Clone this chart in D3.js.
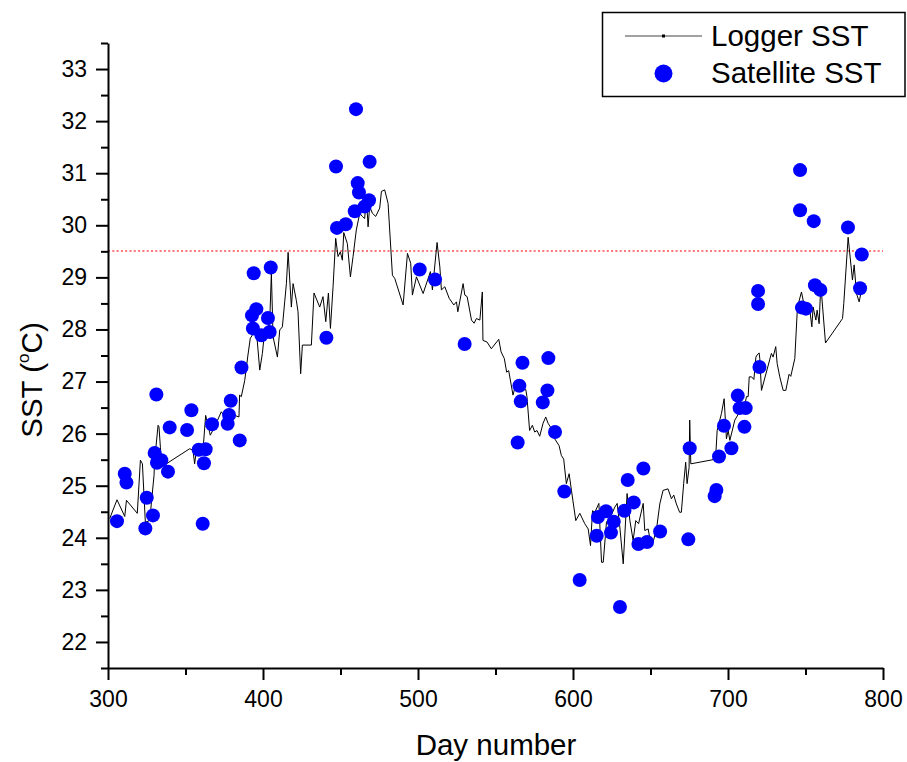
<!DOCTYPE html>
<html>
<head>
<meta charset="utf-8">
<script src="https://cdn.jsdelivr.net/npm/d3@7/dist/d3.min.js"></script>
<style>
  html, body { margin: 0; padding: 0; background: #fff; }
  svg { display: block; }
  text { font-family: "Liberation Sans", Arial, sans-serif; fill: #000; }
</style>
</head>
<body>
<svg id="chart" width="907" height="762"></svg>
<script>
// Logger SST record (day number, °C)
const loggerDay = [
  301.1, 305.8, 310.8, 311.9, 318.9, 320.9, 322.2, 324.1, 326.9, 329.7, 330.1, 332.3, 332.9, 333.8, 334.4, 337.6,
  352.7, 354.8, 355.9, 357.0, 358.7, 361.3, 363.0, 366.0, 368.8, 373.1, 375.3, 378.5, 381.7, 384.5, 384.9, 386.0,
  388.2, 390.3, 391.8, 393.1, 395.7, 397.9, 399.6, 400.7, 404.3, 405.4, 406.5, 409.3, 410.8, 412.5, 414.0, 415.1,
  416.2, 418.3, 419.4, 421.5, 422.6, 424.3, 425.4, 431.2, 432.9, 436.6, 438.7, 440.5, 442.2, 443.5, 445.2, 446.9,
  448.4, 449.9, 451.2, 452.1, 454.4, 456.4, 458.1, 460.2, 462.4, 464.1, 465.6, 466.7, 467.8, 468.8, 470.6, 472.7,
  475.3, 476.4, 478.5, 480.7, 483.5, 485.0, 490.4, 493.2, 495.3, 496.4, 499.0, 503.3, 508.0, 509.3, 512.3, 514.1,
  515.1, 517.3, 520.1, 523.1, 524.8, 525.7, 529.1, 530.2, 531.7, 534.5, 536.2, 537.7, 539.9, 541.5, 541.9, 544.5,
  547.3, 552.1, 553.6, 555.7, 557.2, 558.5, 561.3, 562.4, 564.5, 565.6, 567.7, 569.5, 570.3, 572.0, 573.8, 575.3,
  576.8, 578.5, 580.7, 582.4, 583.9, 585.4, 588.2, 591.0, 592.5, 594.0, 595.7, 597.5, 599.0, 601.8, 604.4, 607.6,
  609.8, 611.3, 612.6, 614.1, 616.7, 618.4, 619.5, 621.6, 624.2, 627.0, 628.5, 630.2, 632.4, 634.9, 636.7, 638.8,
  640.5, 642.3, 645.3, 646.3, 648.5, 649.6, 651.7, 653.9, 656.0, 658.1, 661.3, 663.5, 665.0, 666.7, 668.8, 669.9,
  671.4, 672.7, 673.6, 674.9, 675.3, 676.0, 690.4, 692.1, 693.0, 695.8, 697.5, 699.0, 700.1, 701.2, 704.4, 707.6,
  709.8, 711.9, 713.0, 713.7, 715.2, 716.7, 718.0, 718.8, 720.1, 720.5, 721.6, 728.0, 729.1, 730.8, 731.7, 733.4,
  735.6, 737.3, 739.4, 740.5, 743.1, 744.8, 747.4, 748.9, 750.6, 752.8, 754.1, 754.9, 756.7, 757.5, 758.8, 759.7,
  760.5, 762.9, 773.9, 774.7, 777.5, 780.3, 781.4, 782.9, 784.6, 785.7
];
const loggerSST = [
  24.37, 24.73, 24.41, 24.72, 24.47, 25.49, 25.42, 24.30, 24.33, 25.20, 25.49, 26.16, 26.13, 25.74, 25.49, 25.42,
  25.71, 25.68, 25.42, 25.68, 25.74, 25.68, 26.35, 25.97, 26.13, 26.42, 26.32, 26.45, 26.35, 26.32, 26.74, 26.71,
  27.02, 27.51, 27.83, 27.89, 27.99, 27.22, 27.54, 27.86, 28.12, 29.08, 27.86, 27.47, 27.99, 28.05, 28.53, 28.88,
  29.48, 28.43, 28.88, 28.56, 28.34, 27.15, 27.70, 27.70, 28.70, 28.43, 28.63, 28.15, 28.70, 28.02, 28.82, 29.75,
  29.40, 29.49, 29.33, 29.86, 29.65, 29.01, 29.40, 29.91, 30.23, 30.17, 30.13, 30.55, 29.97, 30.36, 30.23, 30.17,
  30.33, 30.65, 30.68, 30.42, 29.04, 28.98, 28.47, 29.46, 29.27, 28.66, 29.01, 28.69, 29.11, 28.76, 29.67, 29.20,
  28.76, 28.82, 28.60, 28.47, 28.53, 28.34, 28.88, 28.66, 28.63, 28.18, 28.12, 28.21, 28.18, 28.72, 27.79, 27.76,
  27.63, 27.81, 27.57, 27.44, 27.18, 27.21, 26.74, 26.87, 26.84, 27.02, 26.84, 26.85, 26.71, 26.06, 26.16, 26.03,
  26.06, 25.95, 26.20, 26.32, 26.20, 26.13, 25.90, 25.77, 25.58, 25.51, 25.04, 25.23, 24.91, 24.33, 24.47, 24.27,
  24.17, 23.85, 24.52, 24.49, 24.66, 23.53, 23.53, 24.30, 24.40, 24.59, 24.66, 24.21, 23.50, 24.85, 24.33, 23.95,
  24.33, 24.27, 24.66, 24.14, 24.17, 23.98, 23.92, 24.17, 24.65, 24.91, 24.94, 24.75, 24.82, 24.65, 24.49, 24.49,
  25.04, 25.45, 25.04, 25.35, 26.26, 25.42, 25.50, 25.58, 26.06, 26.39, 26.67, 25.90, 26.06, 25.87, 26.26, 26.42,
  26.39, 26.71, 26.71, 27.09, 27.09, 27.04, 27.47, 27.51, 27.55, 27.44, 26.83, 27.54, 27.47, 27.67, 27.35, 27.09,
  26.83, 26.83, 27.14, 27.10, 27.44, 28.43, 28.72, 28.50, 28.37, 28.37, 28.05, 28.43, 28.18, 28.37, 28.11, 28.75,
  28.63, 27.74, 28.21, 28.50, 29.77, 28.95, 29.24, 28.69, 28.53, 28.69
];

// Satellite SST matchups (day number, °C)
const satDay = [
  305.8, 310.8, 311.9, 324.1, 325.0, 329.0, 331.2, 330.1, 334.4, 331.6, 338.7, 339.8, 351.0, 353.8, 358.5, 363.0,
  361.9, 361.1, 367.1, 377.2, 378.1, 379.2, 385.0, 386.1, 393.5, 392.9, 395.7, 394.0, 399.0, 403.2, 404.3, 405.0,
  440.9, 447.1, 447.7, 453.4, 459.2, 460.0, 461.1, 461.9, 465.6, 468.4, 468.8, 501.1, 511.0, 530.1, 564.3, 565.4,
  566.3, 567.4, 580.5, 583.5, 584.1, 588.4, 594.4, 604.3, 615.3, 616.1, 621.3, 624.5, 626.3, 630.3, 633.2, 635.3,
  639.2, 642.2, 645.4, 647.8, 656.2, 674.4, 675.3, 691.4, 692.5, 694.2, 697.4, 702.2, 706.3, 707.5, 710.6, 711.4,
  719.4, 719.4, 720.3, 746.5, 746.5, 747.7, 750.3, 755.3, 756.1, 759.6, 777.4, 785.2, 786.3
];
const satSST = [
  24.32, 25.23, 25.06, 24.18, 24.77, 24.43, 26.75, 25.63, 25.49, 25.44, 25.27, 26.12, 26.07, 26.45, 25.69, 25.70,
  25.43, 24.27, 26.18, 26.19, 26.36, 26.63, 25.87, 27.27, 28.02, 28.27, 28.39, 29.08, 27.89, 28.22, 27.95, 29.19,
  27.84, 31.13, 29.95, 30.02, 30.27, 32.23, 30.81, 30.63, 30.36, 30.48, 31.22, 29.15, 28.96, 27.72, 25.83, 26.92,
  26.62, 27.36, 26.60, 26.83, 27.45, 26.03, 24.89, 23.19, 24.04, 24.40, 24.51, 24.10, 24.31, 22.67, 24.52, 25.11,
  24.68, 23.88, 25.33, 23.92, 24.12, 23.97, 25.72, 24.80, 24.92, 25.56, 26.15, 25.72, 26.73, 26.49, 26.13, 26.49,
  28.49, 28.74, 27.28, 30.29, 31.06, 28.42, 28.40, 30.08, 28.85, 28.76, 29.96, 28.79, 29.44
];

// Reference threshold temperature (dotted line)
const thresholdSST = 29.5;

// Axis ticks
const xMajorTicks = [300, 400, 500, 600, 700, 800];
const xMinorTicks = [350, 450, 550, 650, 750];
const yMajorTicks = [22, 23, 24, 25, 26, 27, 28, 29, 30, 31, 32, 33];
const yMinorTicks = [21.5, 22.5, 23.5, 24.5, 25.5, 26.5, 27.5, 28.5, 29.5, 30.5, 31.5, 32.5, 33.5];

const legendLabels = ["Logger SST", "Satellite SST"];

const svg = d3.select("#chart");

const x = d3.scaleLinear().domain([300, 800]).range([108, 883]);
const y = d3.scaleLinear().domain([21.5, 33.5]).range([668, 43]);

// Threshold line
svg.append("line")
  .attr("x1", x(300)).attr("x2", x(800))
  .attr("y1", Math.round(y(thresholdSST))).attr("y2", Math.round(y(thresholdSST)))
  .attr("stroke", "#ff7878")
  .attr("stroke-width", 2)
  .attr("stroke-dasharray", "2,2.3");

// Logger series
const loggerPts = loggerDay.map((d, i) => [d, loggerSST[i]]);
svg.append("path")
  .datum(loggerPts)
  .attr("fill", "none")
  .attr("stroke", "#000")
  .attr("stroke-width", 1)
  .attr("stroke-linejoin", "miter")
  .attr("d", d3.line().x(d => x(d[0])).y(d => y(d[1])));

// Satellite points
const satPts = satDay.map((d, i) => [d, satSST[i]]);
svg.append("g")
  .selectAll("circle")
  .data(satPts)
  .join("circle")
  .attr("cx", d => x(d[0]))
  .attr("cy", d => y(d[1]))
  .attr("r", 7)
  .attr("fill", "#0000ff");

// Axes
function styleAxis(g) {
  g.selectAll("path.domain").attr("stroke", "#000").attr("stroke-width", 2);
  g.selectAll(".tick line").attr("stroke", "#000").attr("stroke-width", 2);
  g.selectAll(".tick text")
    .attr("font-family", "'Liberation Sans', Arial, sans-serif")
    .attr("font-size", 23)
    .attr("fill", "#000");
}

const xAxisMinor = svg.append("g").attr("transform", `translate(0,${y(21.5)})`)
  .call(d3.axisBottom(x).tickValues(xMinorTicks).tickSize(7).tickSizeOuter(0).tickFormat(""));
styleAxis(xAxisMinor);
const xAxis = svg.append("g").attr("transform", `translate(0,${y(21.5)})`)
  .call(d3.axisBottom(x).tickValues(xMajorTicks).tickSize(12).tickSizeOuter(0).tickPadding(11).tickFormat(d3.format("d")));
styleAxis(xAxis);

const yAxisMinor = svg.append("g").attr("transform", `translate(${x(300)},0)`)
  .call(d3.axisLeft(y).tickValues(yMinorTicks).tickSize(7).tickSizeOuter(0).tickFormat(""));
styleAxis(yAxisMinor);
const yAxis = svg.append("g").attr("transform", `translate(${x(300)},0)`)
  .call(d3.axisLeft(y).tickValues(yMajorTicks).tickSize(12).tickSizeOuter(0).tickPadding(9).tickFormat(d3.format("d")));
styleAxis(yAxis);
xAxisMinor.select("path.domain").remove();
yAxisMinor.select("path.domain").remove();

// Axis titles
svg.append("text")
  .attr("x", 496).attr("y", 755)
  .attr("text-anchor", "middle")
  .attr("font-size", 29.5)
  .text("Day number");

const yTitle = svg.append("text")
  .attr("transform", "translate(42,380) rotate(-90)")
  .attr("text-anchor", "middle")
  .attr("font-size", 29.5);
yTitle.append("tspan").text("SST (");
yTitle.append("tspan").attr("font-size", 17).attr("dy", -13).text("o");
yTitle.append("tspan").attr("dy", 13).text("C)");

// Legend
const legend = svg.append("g");
legend.append("rect")
  .attr("x", 602.5).attr("y", 12.5)
  .attr("width", 302.5).attr("height", 84)
  .attr("fill", "#fff")
  .attr("stroke", "#000")
  .attr("stroke-width", 1.5);
legend.append("line")
  .attr("x1", 625).attr("x2", 702)
  .attr("y1", 36).attr("y2", 36)
  .attr("stroke", "#444")
  .attr("stroke-width", 1);
legend.append("rect")
  .attr("x", 662).attr("y", 34.5)
  .attr("width", 3).attr("height", 3)
  .attr("fill", "#000");
legend.append("circle")
  .attr("cx", 663.5).attr("cy", 73.5)
  .attr("r", 9)
  .attr("fill", "#0000ff");
legend.selectAll("text.lab")
  .data(legendLabels)
  .join("text")
  .attr("class", "lab")
  .attr("x", 711)
  .attr("y", (d, i) => 46 + i * 36.5)
  .attr("font-size", 29.5)
  .text(d => d);
</script>
</body>
</html>
